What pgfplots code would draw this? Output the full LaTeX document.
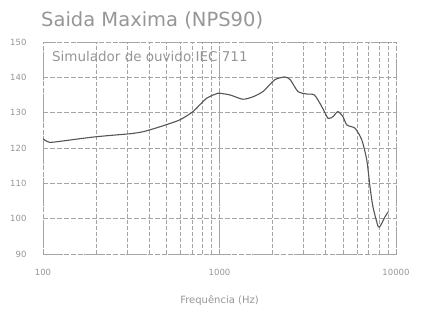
\documentclass[border=0pt]{standalone}
\usepackage{pgfplots}
\pgfplotsset{compat=1.18}
\usepackage{fontspec}
\setmainfont{DejaVu Sans}
\definecolor{txt}{RGB}{150,150,150}
\definecolor{grd}{RGB}{165,165,165}
\definecolor{crv}{RGB}{85,85,85}
\begin{document}
\begin{tikzpicture}
\useasboundingbox (-43pt,-60pt) rectangle (378pt,254pt);
\begin{axis}[
  at={(0,0)}, anchor=south west,
  scale only axis, width=353pt, height=212pt,
  xmode=log, xmin=100, xmax=10000, ymin=90, ymax=150,
  xtick={100,1000,10000}, xticklabels={100,1000,10000},
  ytick={90,100,...,150},
  log ticks with fixed point,
  /pgf/number format/assume math mode=true,
  tick label style={font=\fontsize{8.5}{10}\selectfont, text=txt},
  xticklabel style={yshift=-12pt},
  yticklabel style={xshift=-13pt},
  major tick length=0pt, minor tick length=0pt,
  axis line style={grd, dashed, line width=0.6pt},
  grid=both,
  major grid style={grd, dash pattern=on 5pt off 2pt, line width=0.7pt},
  minor grid style={grd, dash pattern=on 4pt off 2pt, line width=0.55pt},
  xlabel={Frequência (Hz)},
  xlabel style={font=\fontsize{10}{12}\selectfont, text=txt, yshift=-13pt},
  title={Saida Maxima (NPS90)},
  title style={font=\fontsize{19.5}{21}\selectfont, text=txt, anchor=south west, at={(rel axis cs:0,1)}, xshift=-2pt, yshift=7pt, inner sep=0pt},
]
\addplot[crv, line width=1.1pt, smooth, tension=0.4] coordinates {
(100,122.6)(109,121.6)(130,122.0)(160,122.6)(201,123.2)(260,123.7)(320,124.1)(368,124.6)(420,125.4)(500,126.6)(598,128)(707,130.3)(847,134.1)(980,135.5)(1005,135.5)(1150,135.0)(1355,133.8)(1550,134.5)(1765,136)(2055,139.3)(2345,140.1)(2520,139.3)(2780,136)(3100,135.3)(3450,135)(3800,131.7)(4120,128.4)(4400,128.9)(4680,130.3)(5000,128.9)(5270,126.5)(5860,125.6)(6400,122.3)(6830,116.6)(7120,109.1)(7400,103.4)(7930,97.7)(8200,98.2)(8680,100.6)(9050,102)
};
\node[anchor=west, text=txt, font=\fontsize{13.5}{15}\selectfont, inner sep=0pt] at (rel axis cs:0.025,0.93) {Simulador de ouvido IEC 711};
\end{axis}
\end{tikzpicture}
\end{document}
